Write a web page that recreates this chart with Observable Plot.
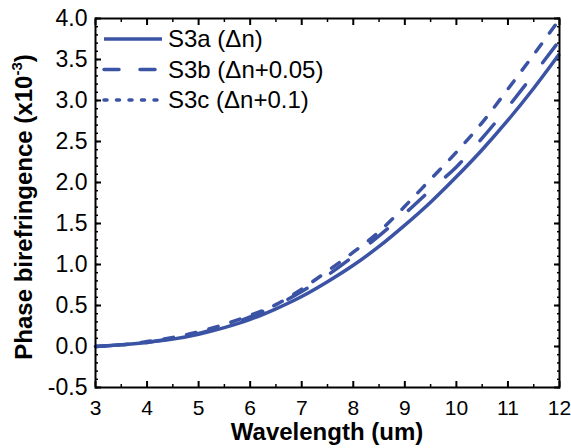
<!DOCTYPE html>
<html><head><meta charset="utf-8">
<script src="https://cdn.jsdelivr.net/npm/d3@7"></script>
<script src="https://cdn.jsdelivr.net/npm/@observablehq/plot@0.6"></script>
<style>
body{margin:0;background:#fff}
#chart{position:relative;width:571px;height:448px}
</style>
</head><body><div id="chart"></div>
<script>
// ---- data ----
const wavelength = [3,3.5,4,4.5,5,5.5,6,6.5,7,7.5,8,8.5,9,9.5,10,10.5,11,11.5,12];
const s3a = [0,0.02,0.05,0.09,0.15,0.23,0.33,0.46,0.61,0.79,0.99,1.22,1.48,1.76,2.07,2.40,2.76,3.15,3.57];
const s3b = [0,0.02,0.05,0.10,0.16,0.25,0.36,0.50,0.67,0.87,1.10,1.35,1.62,1.91,2.19,2.54,2.92,3.32,3.73];
const s3c = [0,0.02,0.06,0.11,0.18,0.27,0.38,0.51,0.70,0.92,1.15,1.40,1.71,2.04,2.37,2.73,3.14,3.56,3.99];
const seriesNames = ["S3a (\u0394n)", "S3b (\u0394n+0.05)", "S3c (\u0394n+0.1)"];
const xTicks = [3,4,5,6,7,8,9,10,11,12];
const xMinorTicks = [3.5,4.5,5.5,6.5,7.5,8.5,9.5,10.5,11.5];
const yTicks = [-0.5,0,0.5,1,1.5,2,2.5,3,3.5,4];
const yMinorTicks = d3.range(-5, 41).map(i => i / 10);
const xTitle = "Wavelength (um)";
const yTitle = "Phase birefringence (x10";
const yTitleSup = "-3";

// ---- styling ----
const color = "#3b53a4";
const dashStyles = [null, "22,28", "9.5,13.5"];
const legendDash = [null, "15,21", "3,9.5"];
const font = "'Liberation Sans', Arial, sans-serif";

const seriesValues = [s3a, s3b, s3c];
const rows = seriesValues.map((vals, k) => wavelength.map((w, i) => ({w, v: vals[i], name: seriesNames[k]})));

const blank = () => "";
const plot = Plot.plot({
  width: 571, height: 448,
  marginLeft: 95, marginRight: 12, marginTop: 18, marginBottom: 61,
  style: {fontFamily: font, background: "white", color: "black", overflow: "visible"},
  x: {domain: [3, 12]},
  y: {domain: [-0.5, 4]},
  marks: [
    Plot.axisY(yMinorTicks, {anchor: "left", tickSize: -3, tickFormat: blank, label: null, strokeWidth: 1.5}),
    Plot.axisY(yMinorTicks, {anchor: "right", tickSize: -3, tickFormat: blank, label: null, strokeWidth: 1.5}),
    Plot.axisY(yTicks, {anchor: "left", tickSize: -6, tickPadding: 14, tickFormat: d => d.toFixed(1), fontSize: 23, label: null, strokeWidth: 2}),
    Plot.axisY(yTicks, {anchor: "right", tickSize: -6, tickFormat: blank, label: null, strokeWidth: 2}),
    Plot.axisX(xMinorTicks, {anchor: "bottom", tickSize: -3, tickFormat: blank, label: null, strokeWidth: 1.5}),
    Plot.axisX(xMinorTicks, {anchor: "top", tickSize: -3, tickFormat: blank, label: null, strokeWidth: 1.5}),
    Plot.axisX(xTicks, {anchor: "bottom", tickSize: -6, tickPadding: 19, tickFormat: d => String(d), fontSize: 21, label: null, strokeWidth: 2}),
    Plot.axisX(xTicks, {anchor: "top", tickSize: -6, tickFormat: blank, label: null, strokeWidth: 2}),
    ...rows.map((r, k) => Plot.line(r, {
      x: "w", y: "v", stroke: color, strokeWidth: 3.5, curve: "catmull-rom",
      strokeDasharray: dashStyles[k], strokeLinecap: k === 0 ? "butt" : "round"
    })),
    Plot.frame({stroke: "black", strokeWidth: 2})
  ]
});
document.getElementById("chart").appendChild(plot);

// ---- titles and legend ----
const svg = d3.select(plot);
svg.append("text")
  .attr("x", 327).attr("y", 440)
  .attr("text-anchor", "middle")
  .attr("font-family", font).attr("font-weight", "bold").attr("font-size", 24)
  .attr("fill", "black")
  .text(xTitle);

const yt = svg.append("text")
  .attr("transform", "translate(32,207) rotate(-90)")
  .attr("text-anchor", "middle")
  .attr("font-family", font).attr("font-weight", "bold").attr("font-size", 24)
  .attr("fill", "black");
yt.append("tspan").text(yTitle);
yt.append("tspan").attr("font-size", 15).attr("dy", -10).text(yTitleSup);
yt.append("tspan").attr("dy", 10).text(")");

const legend = svg.append("g");
seriesNames.forEach((name, k) => {
  const yLine = 39 + k * 30.5;
  legend.append("line")
    .attr("x1", 104).attr("x2", 162).attr("y1", yLine).attr("y2", yLine)
    .attr("stroke", color).attr("stroke-width", 3.5)
    .attr("stroke-dasharray", legendDash[k])
    .attr("stroke-linecap", k === 0 ? "butt" : "round");
  legend.append("text")
    .attr("x", 168).attr("y", yLine + 8)
    .attr("text-anchor", "start")
    .attr("font-family", font).attr("font-size", 24)
    .attr("fill", "black")
    .text(name);
});
</script>
</body></html>
